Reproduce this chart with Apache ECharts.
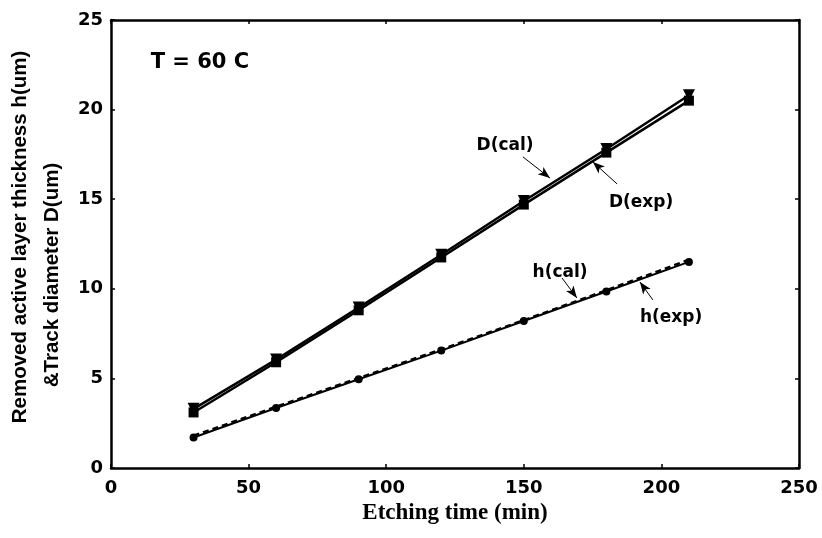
<!DOCTYPE html>
<html>
<head>
<meta charset="utf-8">
<script src="https://cdn.jsdelivr.net/npm/echarts@6/dist/echarts.min.js"></script>
<style>
  html, body { margin: 0; padding: 0; background: #fff; }
  #chart { width: 822px; height: 538px; }
</style>
</head>
<body>
<div id="chart"></div>
<script>
// Etching time (min)
const etchTime = [30, 60, 90, 120, 150, 180, 210];
// Track diameter D (um): calculated and measured
const dCal = [3.3, 6.05, 8.95, 11.9, 14.9, 17.8, 20.8];
const dExp = [3.1, 5.9, 8.8, 11.75, 14.7, 17.6, 20.5];
// Removed active layer thickness h (um): calculated and measured
const hCal = [1.8, 3.42, 5.02, 6.62, 8.25, 9.92, 11.62];
const hExp = [1.7, 3.35, 4.95, 6.55, 8.2, 9.85, 11.5];
// Y-axis title, one entry per line
const yTitleLines = ['Removed active layer thickness h(um)', '&Track diameter D(um)'];

const pairs = (xs, ys) => xs.map((x, i) => [x, ys[i]]);

const tickFont = {
  color: '#000', fontFamily: 'DejaVu Sans', fontWeight: 'bold', fontSize: 18
};
const noteFont = {
  color: '#000', fontFamily: 'DejaVu Sans', fontWeight: 'bold', fontSize: 17
};

function note(text, x, y, size) {
  return {
    coord: [x, y], symbol: 'circle', symbolSize: 0,
    label: Object.assign({ show: true, position: 'inside', formatter: text }, noteFont,
      size ? { fontSize: size } : {})
  };
}
function arrow(x1, y1, x2, y2) {
  return [{ coord: [x1, y1] }, { coord: [x2, y2] }];
}
const arrowStyle = {
  silent: true, symbol: ['none', 'arrow'], symbolSize: [7, 12],
  lineStyle: { color: '#000', width: 1, type: 'solid' },
  label: { show: false }, animation: false
};

const boxLine = { show: true, onZero: false, lineStyle: { color: '#000', width: 2.5 } };
const boxTick = { show: true, inside: true, length: 4, lineStyle: { color: '#000', width: 1.5 } };

// Rotated y-axis title lines
function yTitle(text, x, y) {
  return {
    type: 'text', x: x, y: y, rotation: Math.PI / 2, silent: true,
    style: {
      text: text, fill: '#000', fontFamily: 'Liberation Sans', fontWeight: 'bold',
      fontSize: 20.5, align: 'center', verticalAlign: 'middle'
    }
  };
}

const chart = echarts.init(document.getElementById('chart'));
chart.setOption({
  animation: false,
  backgroundColor: '#fff',
  grid: { left: 111, right: 23, top: 20, bottom: 70, outerBoundsMode: 'none', containLabel: false },
  graphic: [yTitle(yTitleLines[0], 20, 237), yTitle(yTitleLines[1], 52, 275)],
  xAxis: [{
    type: 'value', min: 0, max: 250, interval: 50,
    name: 'Etching time (min)', nameLocation: 'middle', nameGap: 32,
    nameTextStyle: { color: '#000', fontFamily: 'Liberation Serif', fontWeight: 'bold', fontSize: 23 },
    axisLine: boxLine, axisTick: boxTick,
    axisLabel: Object.assign({ margin: 11 }, tickFont),
    splitLine: { show: false }
  }, {
    type: 'value', position: 'top', min: 0, max: 250, interval: 50,
    axisLine: boxLine, axisTick: boxTick,
    axisLabel: { show: false }, splitLine: { show: false }
  }],
  yAxis: [{
    type: 'value', min: 0, max: 25, interval: 5,
    axisLine: boxLine, axisTick: boxTick,
    axisLabel: Object.assign({ margin: 8 }, tickFont),
    splitLine: { show: false }
  }, {
    type: 'value', position: 'right', min: 0, max: 25, interval: 5,
    axisLine: boxLine, axisTick: boxTick,
    axisLabel: { show: false }, splitLine: { show: false }
  }],
  series: [
    {
      name: 'D(cal)', type: 'line', data: pairs(etchTime, dCal),
      symbol: 'triangle', symbolRotate: 180, symbolSize: 12,
      lineStyle: { color: '#000', width: 2.5 }, itemStyle: { color: '#000' },
      z: 3,
      markPoint: {
        silent: true, animation: false,
        data: [note('T = 60 C', 32.3, 22.6, 21), note('D(cal)', 143.2, 18.02)]
      },
      markLine: Object.assign({ data: [arrow(149.7, 17.36, 159.5, 16.18)] }, arrowStyle)
    },
    {
      name: 'D(exp)', type: 'line', data: pairs(etchTime, dExp),
      symbol: 'rect', symbolSize: 10,
      lineStyle: { color: '#000', width: 2.5 }, itemStyle: { color: '#000' },
      z: 3,
      markPoint: { silent: true, animation: false, data: [note('D(exp)', 192.6, 14.79)] },
      markLine: Object.assign({ data: [arrow(183.9, 15.85, 175.1, 17.08)] }, arrowStyle)
    },
    {
      name: 'h(cal)', type: 'line', data: pairs(etchTime, hCal),
      showSymbol: false, symbol: 'none',
      lineStyle: { color: '#000', width: 2.4, type: [6, 4] },
      z: 2,
      markPoint: { silent: true, animation: false, data: [note('h(cal)', 163.2, 10.88)] },
      markLine: Object.assign({ data: [arrow(163.9, 10.6, 169.3, 9.49)] }, arrowStyle)
    },
    {
      name: 'h(exp)', type: 'line', data: pairs(etchTime, hExp),
      symbol: 'circle', symbolSize: 8,
      lineStyle: { color: '#000', width: 2 }, itemStyle: { color: '#000' },
      z: 3,
      markPoint: { silent: true, animation: false, data: [note('h(exp)', 203.5, 8.37)] },
      markLine: Object.assign({ data: [arrow(196.9, 9.38, 192.2, 10.38)] }, arrowStyle)
    }
  ]
});
</script>
</body>
</html>
